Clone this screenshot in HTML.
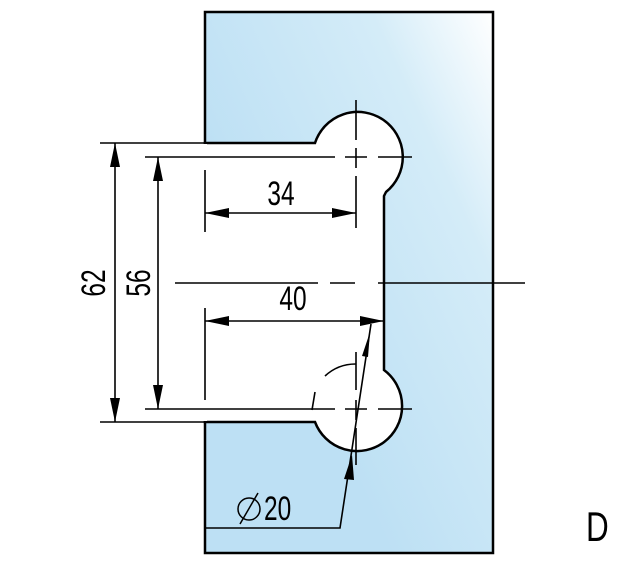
<!DOCTYPE html>
<html><head><meta charset="utf-8"><style>body{margin:0;background:#fff}svg{display:block}text{font-family:"Liberation Sans",sans-serif;fill:#000}</style></head><body>
<svg width="632" height="568" viewBox="0 0 632 568" xmlns="http://www.w3.org/2000/svg">
<defs>
<linearGradient id="g" x1="1" y1="0" x2="0.3" y2="0.6">
<stop offset="0" stop-color="#ffffff"/><stop offset="0.35" stop-color="#d4ecf8"/><stop offset="1" stop-color="#bde0f4"/></linearGradient>
</defs>
<rect x="205" y="12" width="288" height="541" fill="url(#g)" stroke="#000" stroke-width="2.5"/>
<path d="M205,143 L315,143 A45,45 0 1 1 386,192 L384,196 L384,370 A45,45 0 1 1 315,422 L205,422 Z" fill="#fff" stroke="#000" stroke-width="2.5"/>
<line x1="205" y1="144" x2="205" y2="421" stroke="#fff" stroke-width="4"/>
<g stroke="#000" stroke-width="1.6" fill="none">
<line x1="100" y1="143" x2="205" y2="143"/><line x1="100" y1="422" x2="205" y2="422"/>
<line x1="145" y1="157" x2="335" y2="157"/><line x1="345" y1="157" x2="367" y2="157"/><line x1="378" y1="157" x2="412" y2="157"/>
<line x1="145" y1="409" x2="335" y2="409"/><line x1="345" y1="409" x2="367" y2="409"/><line x1="378" y1="409" x2="412" y2="409"/>
<line x1="115" y1="143" x2="115" y2="422"/><line x1="158" y1="157" x2="158" y2="409"/>
<line x1="175" y1="283" x2="318" y2="283"/><line x1="330" y1="283" x2="355" y2="283"/><line x1="378" y1="283" x2="525" y2="283"/>
<line x1="356" y1="100" x2="356" y2="140"/><line x1="356" y1="148" x2="356" y2="168"/><line x1="356" y1="176" x2="356" y2="228"/>
<line x1="356" y1="352" x2="356" y2="390"/><line x1="356" y1="400" x2="356" y2="420"/><line x1="356" y1="428" x2="356" y2="465"/>
<line x1="205" y1="170" x2="205" y2="232"/><line x1="205" y1="308" x2="205" y2="400"/>
<line x1="205" y1="213" x2="356" y2="213"/><line x1="205" y1="321" x2="384" y2="321"/>
<path d="M325,376 A45,45 0 0 1 356,364"/><line x1="315" y1="392" x2="312" y2="410"/>
<path d="M205,528 L340,528 L371,324"/>
</g>
<g fill="#000">
<path d="M115,143 l-5,24 l10,0z"/><path d="M115,422 l-5,-24 l10,0z"/>
<path d="M158,157 l-5,24 l10,0z"/><path d="M158,409 l-5,-24 l10,0z"/>
<path d="M205,213 l24,-5 l0,10z"/><path d="M356,213 l-24,-5 l0,10z"/>
<path d="M205,321 l24,-5 l0,10z"/><path d="M384,321 l-24,-5 l0,10z"/>
<path d="M370,332 l-8,24 l6,1z"/><path d="M352,455 l-8,24 l10,1z"/>
</g>
<g font-size="34">
<text transform="translate(281 205) scale(0.72 1)" text-anchor="middle">34</text>
<text transform="translate(293 310) scale(0.72 1)" text-anchor="middle">40</text>
<text transform="translate(105 283) rotate(-90) scale(0.72 1)" text-anchor="middle">62</text>
<text transform="translate(150 283) rotate(-90) scale(0.72 1)" text-anchor="middle">56</text>
<text transform="translate(264 520) scale(0.72 1)">20</text>
<text transform="translate(586 541) scale(0.75 1)" font-size="42">D</text>
</g>
<circle cx="249" cy="509" r="11" fill="none" stroke="#000" stroke-width="1.5"/><line x1="240" y1="524" x2="258" y2="493" stroke="#000" stroke-width="1.5"/>
</svg>
</body></html>
